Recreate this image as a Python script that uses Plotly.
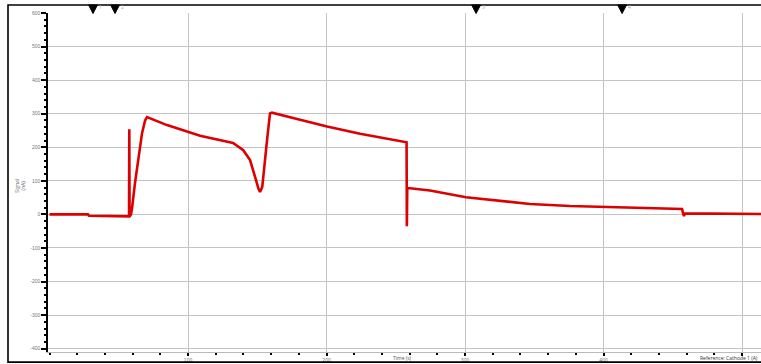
import plotly.graph_objects as go

# Trace (time in s, signal)
time_s = [0, 27.8, 28.5, 56.7, 57.4, 57.6, 57.8, 58.8, 59.6, 61.7, 63.9, 66.8, 69.0, 70.4,
          84.8, 108.7, 132.5, 139.9, 144.8, 147.2, 149.1, 150.8, 152.0, 153.6, 155.6, 157.3,
          159.2, 160.6, 180.9, 200.4, 224.2, 257.8, 258.0, 258.3, 260.3, 274.7, 300.7,
          325.3, 346.9, 375.8, 399.6, 426.4, 456.7, 457.4, 458.1, 458.8, 483.7, 513.7]
signal = [0, 0, -4, -4, -6, 254, -6, 0, 19, 93, 162, 242, 280, 290,
          266, 234, 213, 191, 162, 132, 102, 77, 67, 82, 153, 231,
          301, 303, 282, 262, 240, 215, -35, 78, 78, 71, 51,
          40, 31, 25, 22, 19, 16, 4, -5, 3, 3, 1]

# Event markers along the top
event_times = [31.4, 47.3, 308.0, 413.4]
event_labels = ["1", "2", "3", "4"]

y_ticks = [600, 500, 400, 300, 200, 100, 0, -100, -200, -300, -400]
x_ticks = [100, 200, 300, 400, 500]
x_tick_text = ["100", "200", "300", "400", ""]

fig = go.Figure()
fig.add_trace(go.Scatter(x=time_s, y=signal, mode="lines",
                         line=dict(color="rgb(220,0,0)", width=2.6), showlegend=False,
                         hoverinfo="skip"))

axis_font = dict(size=5, color="#777777", family="Liberation Sans")
fig.update_layout(
    width=761, height=364,
    margin=dict(l=48, r=0, t=13, b=12, autoexpand=False),
    paper_bgcolor="white", plot_bgcolor="white",
    showlegend=False,
    xaxis=dict(range=[-1.1, 513.7], tickvals=x_ticks, ticktext=x_tick_text,
               showgrid=True, gridcolor="#c4c4c4", gridwidth=1, zeroline=False,
               showline=True, linecolor="#bbbbbb", linewidth=1,
               ticks="outside", ticklen=3, tickcolor="black", tickwidth=1.5,
               minor=dict(dtick=20, ticks="outside", ticklen=2, tickcolor="black", showgrid=False),
               tickfont=axis_font, automargin=False),
    yaxis=dict(range=[-410, 600], tickvals=y_ticks, ticktext=[str(v) for v in y_ticks],
               showgrid=True, gridcolor="#c4c4c4", gridwidth=1, zeroline=False,
               showline=True, linecolor="black", linewidth=1.5,
               ticks="outside", ticklen=5, tickcolor="black", tickwidth=1.5,
               minor=dict(dtick=20, ticks="outside", ticklen=2, tickcolor="black", showgrid=False),
               tickfont=axis_font, automargin=False),
)

# outer frame
fig.add_shape(type="rect", xref="paper", yref="paper",
              x0=-0.0561, x1=1.01, y0=-0.03, y1=1.0236,
              line=dict(color="black", width=1.6))

# event markers hanging from the top frame
for t, lab in zip(event_times, event_labels):
    fig.add_shape(type="path", xref="x", yref="paper",
                  path=f"M {t-3.2},1.0236 L {t+3.2},1.0236 L {t},0.9985 Z",
                  fillcolor="black", line=dict(color="black", width=1))
    fig.add_annotation(text=lab, x=t, xref="x", y=1.0, yref="paper", yanchor="bottom",
                       xanchor="left", showarrow=False, font=dict(size=5, color="#aaaaaa"),
                       xshift=4, yshift=1)

fig.add_annotation(text="Time (s)", xref="paper", yref="paper", x=0.497, y=-0.018,
                   showarrow=False, font=dict(size=5, color="#555555"), yanchor="middle")
fig.add_annotation(text="Reference: Cathode 1 (A)", xref="paper", yref="paper", x=0.998, y=-0.018,
                   xanchor="right", showarrow=False, font=dict(size=5, color="#333333"),
                   yanchor="middle")
fig.add_annotation(text="Signal<br>(nA)", xref="paper", yref="paper", x=-0.05, y=0.49,
                   textangle=-90, showarrow=False, font=dict(size=5, color="#555555"))

fig.write_html("out.html", config={"displayModeBar": False})

# remove the default page margin so the figure sits at the window's top-left corner
with open("out.html", "r", encoding="utf-8") as f:
    html = f.read()
html = html.replace("<head>", "<head><style>html,body{margin:0;padding:0;overflow:hidden;}</style>", 1)
with open("out.html", "w", encoding="utf-8") as f:
    f.write(html)
